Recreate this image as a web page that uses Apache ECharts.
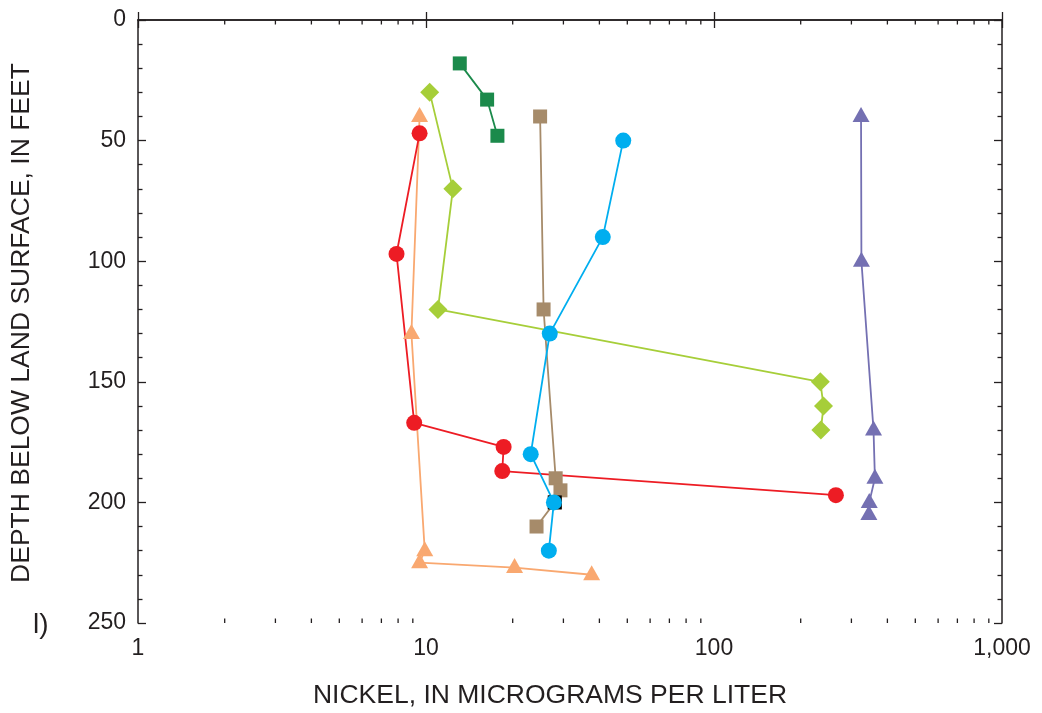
<!DOCTYPE html>
<html><head><meta charset="utf-8">
<script src="https://cdn.jsdelivr.net/npm/echarts@6/dist/echarts.min.js"></script>
<style>html,body{margin:0;padding:0;background:#fff}#c{width:1042px;height:713px}</style>
</head><body><div id="c"></div>
<script>
const X_TITLE = 'NICKEL, IN MICROGRAMS PER LITER';
const Y_TITLE = 'DEPTH BELOW LAND SURFACE, IN FEET';
const PANEL_LABEL = 'l)';
const X_MIN = 1, X_MAX = 1000;
const X_MINOR = [2,3,4,5,6,7,8,9,20,30,40,50,60,70,80,90,200,300,400,500,600,700,800,900];
const DEPTH_MIN = 0, DEPTH_MAX = 250, DEPTH_STEP = 50;

const dkGreenNi = [13.1, 16.3, 17.7];
const dkGreenDepth = [18, 33, 48];
const limeNi = [10.3, 12.4, 11.0, 234, 240, 235];
const limeDepth = [30, 70, 120, 150, 160, 170];
const redNi = [9.5, 7.9, 9.1, 18.6, 18.4, 265];
const redDepth = [47, 97, 167, 177, 187, 197];
const peachNi = [9.5, 8.9, 9.9, 9.5, 20.3, 37.6];
const peachDepth = [40, 130, 220, 225, 227, 230];
const brownNi = [24.9, 25.6, 28.2, 29.3, 28.0, 24.2];
const brownDepth = [40, 120, 190, 195, 200, 210];
const blackNi = [28.0];
const blackDepth = [200];
const blueNi = [48.4, 41.1, 26.9, 23.1, 27.8, 26.7];
const blueDepth = [50, 90, 130, 180, 200, 220];
const purpleNi = [324, 325, 358, 362, 346, 345];
const purpleDepth = [40, 100, 170, 190, 200, 205];

const INK = '#231F20';
const FONT = 'Liberation Sans, Arial, sans-serif';

function pairs(xs, ys) { return xs.map((v, i) => [v, ys[i]]); }
function lineSeries(name, xs, ys, color, symbol, size, extra) {
  return Object.assign({
    name, type: 'line', data: pairs(xs, ys),
    symbol, symbolSize: size,
    itemStyle: { color },
    lineStyle: { color, width: 1.8 },
    emphasis: { disabled: true },
    silent: true, animation: false
  }, extra || {});
}

const yAxisBase = {
  type: 'value', inverse: true, min: DEPTH_MIN, max: DEPTH_MAX, interval: DEPTH_STEP,
  axisLine: { show: true, lineStyle: { color: INK, width: 1.5 } },
  axisTick: { show: true, inside: true, length: 8, lineStyle: { color: INK, width: 1.3 } },
  minorTick: { show: true, splitNumber: 5, length: 4.5, lineStyle: { color: INK, width: 1.3 } },
  splitLine: { show: false }
};

const chart = echarts.init(document.getElementById('c'), null, { renderer: 'canvas' });
chart.setOption({
  animation: false,
  backgroundColor: '#fff',
  grid: { left: 138, right: 40, top: 20, bottom: 90 },
  xAxis: [{
    type: 'log', logBase: 10, min: X_MIN, max: X_MAX, position: 'bottom',
    axisLine: { show: true, lineStyle: { color: INK, width: 1.5 } },
    axisTick: { show: true, inside: true, length: 8, lineStyle: { color: INK, width: 1.3 } },
    axisLabel: { color: INK, fontSize: 23, fontFamily: FONT, margin: 14,
      formatter: v => v >= 1000 ? String(v).replace(/\B(?=(\d{3})+(?!\d))/g, ',') : String(v) },
    splitLine: { show: false }
  }, {
    type: 'log', logBase: 10, min: X_MIN, max: X_MAX, position: 'top',
    axisLine: { show: true, lineStyle: { color: INK, width: 1.5 } },
    axisTick: { show: true, inside: true, length: 8, lineStyle: { color: INK, width: 1.3 } },
    axisLabel: { show: false },
    splitLine: { show: false }
  }],
  yAxis: [Object.assign({}, yAxisBase, {
    position: 'left',
    axisLabel: { color: INK, fontSize: 23, fontFamily: FONT, margin: 12 }
  }), Object.assign({}, yAxisBase, {
    position: 'right', axisLabel: { show: false }
  })],
  graphic: [{
    type: 'text', left: 33, top: 611,
    style: { text: PANEL_LABEL, fill: INK, font: '28px ' + FONT }
  }, {
    type: 'text', x: 550, y: 696,
    style: { text: X_TITLE, fill: INK, font: '26.5px ' + FONT, align: 'center', verticalAlign: 'middle' }
  }, {
    type: 'text', x: 22, y: 323, rotation: Math.PI / 2,
    style: { text: Y_TITLE, fill: INK, font: '26.5px ' + FONT, align: 'center', verticalAlign: 'middle' }
  }],
  series: [
    {
      type: 'custom', silent: true, clip: false, animation: false,
      data: X_MINOR.map(v => [v, DEPTH_MAX]),
      encode: { x: 0, y: 1 },
      renderItem: function (params, api) {
        const v = api.value(0);
        const b = api.coord([v, DEPTH_MAX]);
        const t = api.coord([v, DEPTH_MIN]);
        const st = { stroke: INK, lineWidth: 1.3 };
        return { type: 'group', children: [
          { type: 'line', shape: { x1: b[0], y1: b[1], x2: b[0], y2: b[1] - 4.5 }, style: st },
          { type: 'line', shape: { x1: t[0], y1: t[1], x2: t[0], y2: t[1] + 4.5 }, style: st }
        ]};
      }
    },
    lineSeries('peach', peachNi, peachDepth, '#F9A870', 'triangle', [17, 15], { symbolOffset: [0, -2] }),
    lineSeries('red', redNi, redDepth, '#ED1C24', 'circle', 16),
    lineSeries('lime', limeNi, limeDepth, '#A6CE39', 'diamond', [19, 19]),
    lineSeries('darkgreen', dkGreenNi, dkGreenDepth, '#1B8A4B', 'rect', 14),
    lineSeries('brown', brownNi, brownDepth, '#A68B6A', 'rect', 14),
    lineSeries('black', blackNi, blackDepth, '#000000', 'rect', 14),
    lineSeries('blue', blueNi, blueDepth, '#00AEEF', 'circle', 16),
    lineSeries('purple', purpleNi, purpleDepth, '#7470B2', 'triangle', [17, 15], { symbolOffset: [0, -2] })
  ]
});
</script>
</body></html>
